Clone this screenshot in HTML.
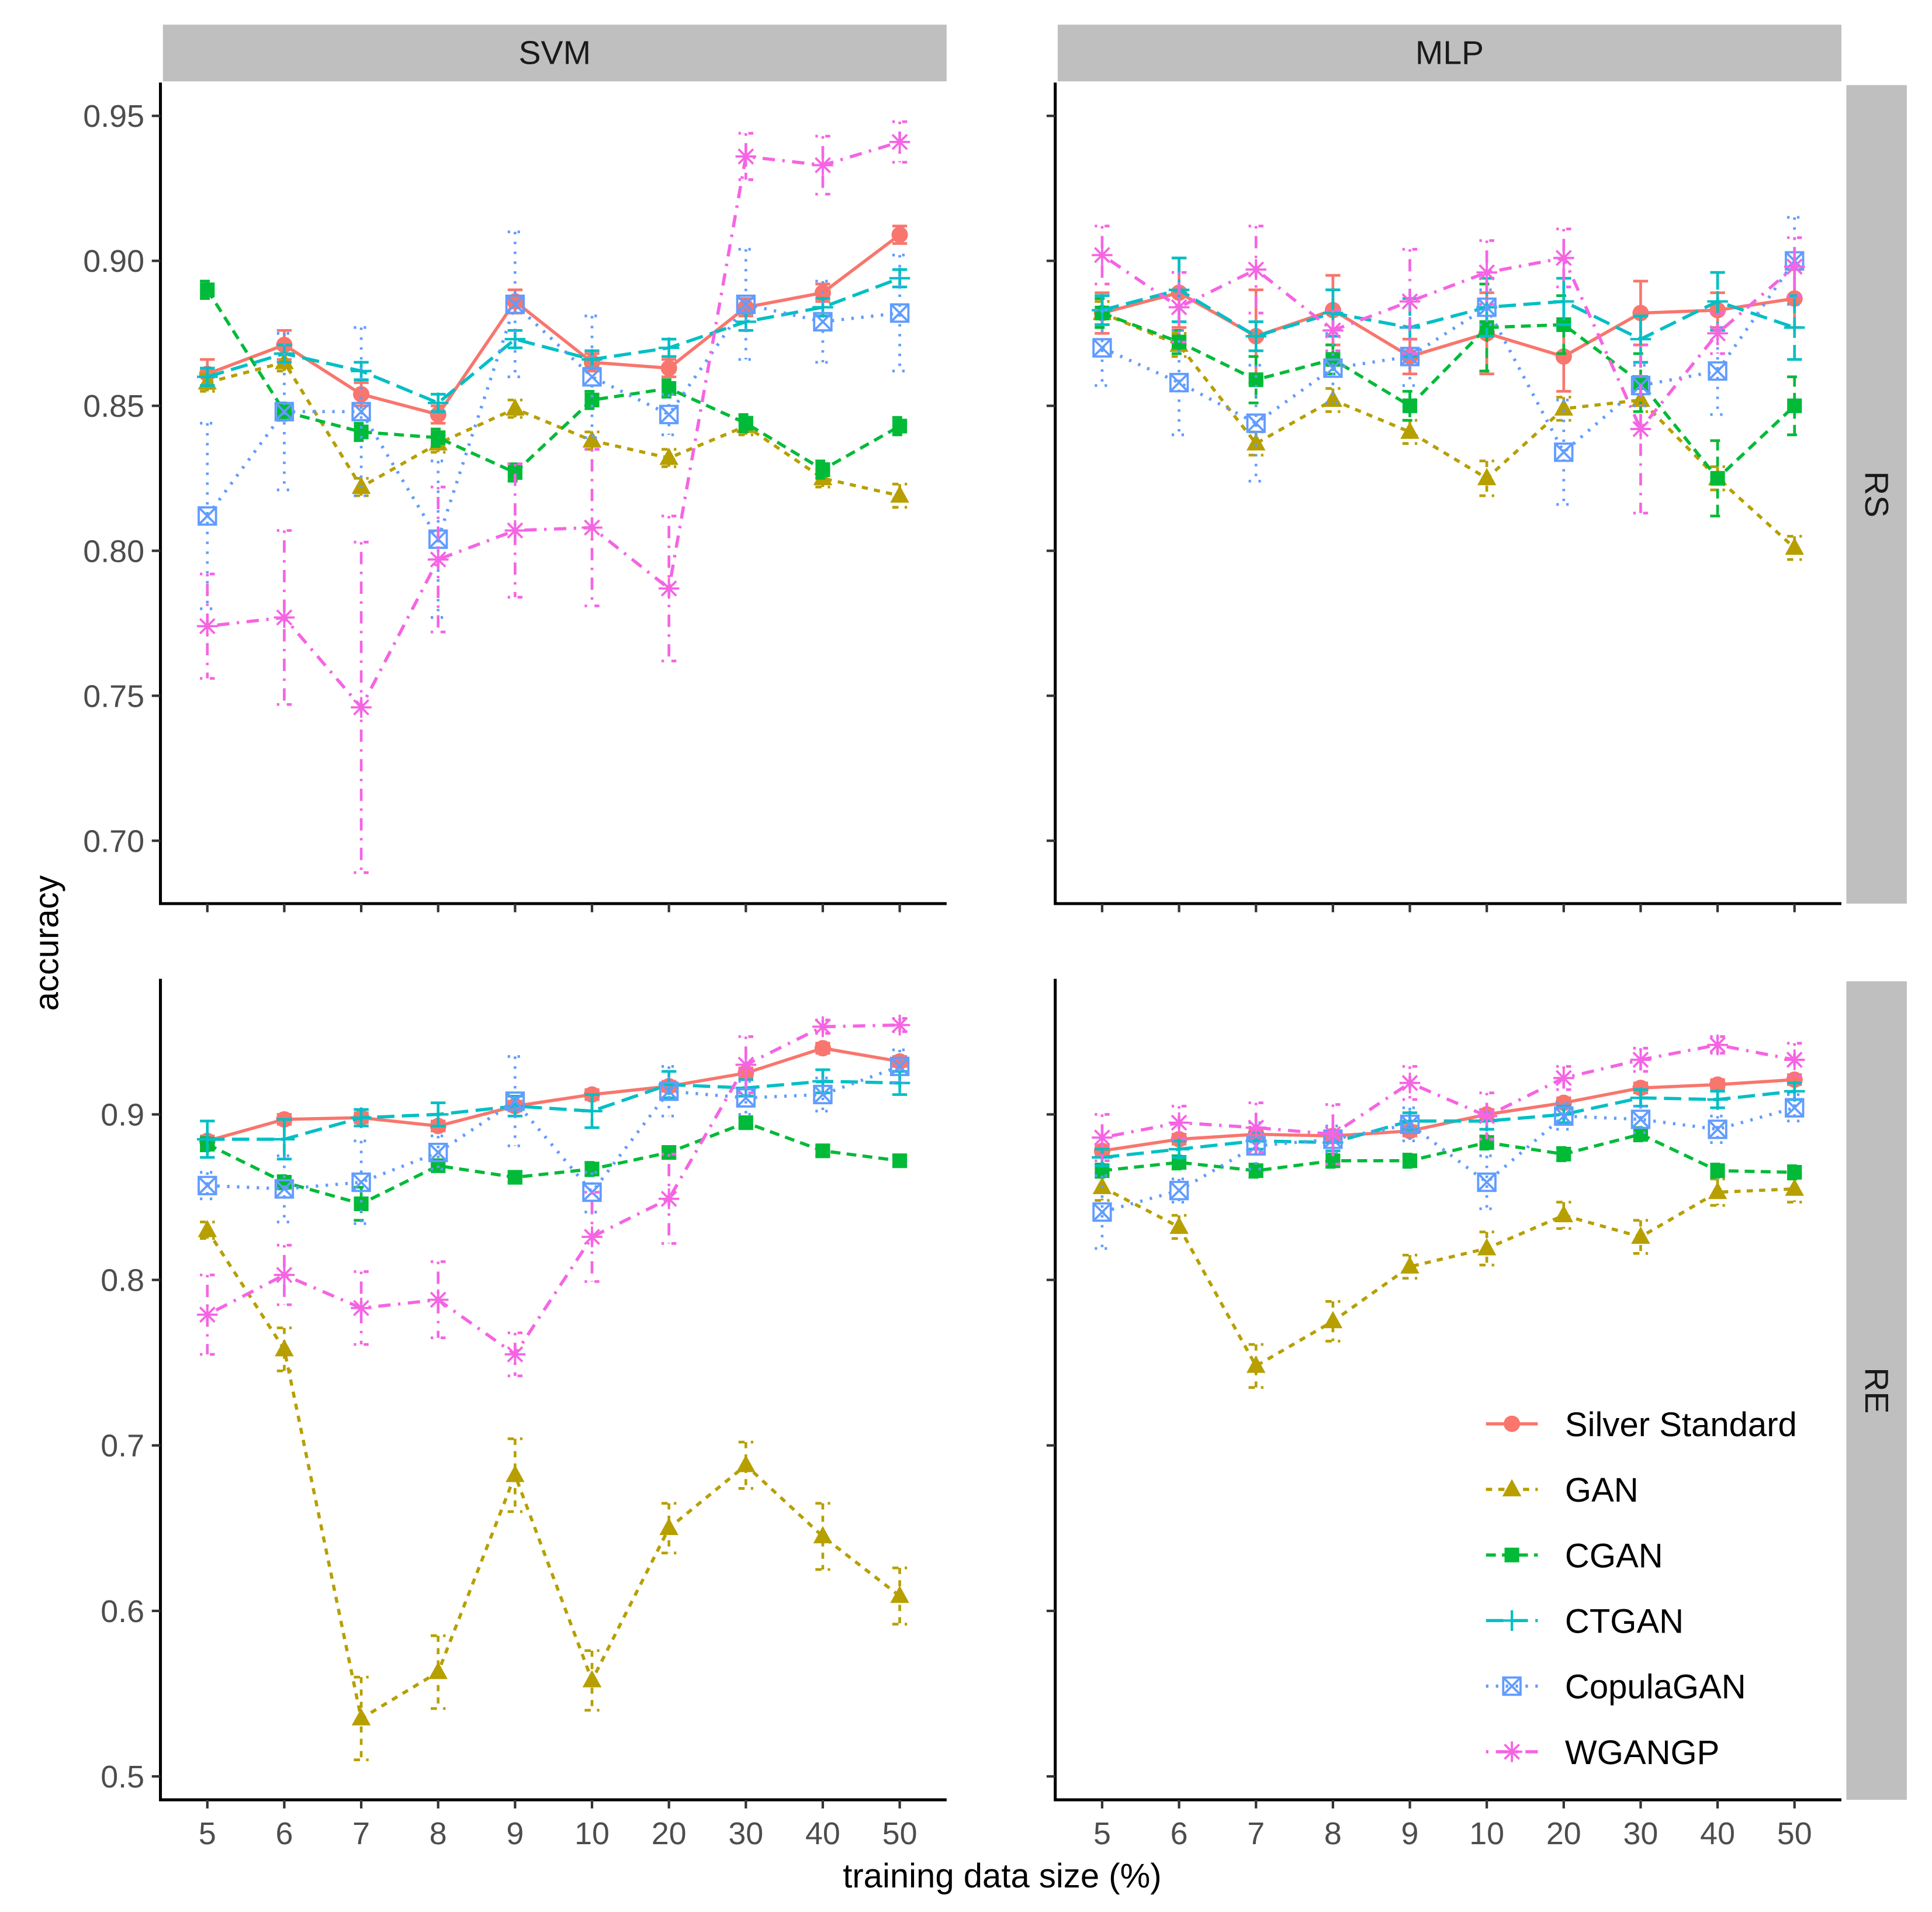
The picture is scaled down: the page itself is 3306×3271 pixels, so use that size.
<!DOCTYPE html>
<html><head><meta charset="utf-8"><style>
html,body{margin:0;padding:0;background:#fff}
svg{display:block}
text{font-family:"Liberation Sans",Arial,sans-serif}
</style></head><body>
<svg id="chart" width="3306" height="3271" viewBox="0 0 1565.4 1551" preserveAspectRatio="none" xmlns="http://www.w3.org/2000/svg">
<rect width="1570" height="1560" fill="#fff"/>
</svg>
<script>
const categories = ["5","6","7","8","9","10","20","30","40","50"];
const seriesNames = ["Silver Standard","GAN","CGAN","CTGAN","CopulaGAN","WGANGP"];
const topTicks = [0.70,0.75,0.80,0.85,0.90,0.95];
const topTickLabels = ["0.70","0.75","0.80","0.85","0.90","0.95"];
const botTicks = [0.5,0.6,0.7,0.8,0.9];
const botTickLabels = ["0.5","0.6","0.7","0.8","0.9"];

// SVM RS
const svmRS_silver = [0.861,0.871,0.854,0.847,0.886,0.865,0.863,0.884,0.889,0.909];
const svmRS_silverErr = [0.005,0.005,0.004,0.003,0.004,0.003,0.003,0.003,0.003,0.003];
const svmRS_gan = [0.858,0.865,0.822,0.837,0.849,0.838,0.832,0.843,0.825,0.819];
const svmRS_ganErr = [0.003,0.003,0.003,0.003,0.003,0.003,0.003,0.003,0.003,0.004];
const svmRS_cgan = [0.890,0.848,0.841,0.839,0.827,0.852,0.856,0.844,0.828,0.843];
const svmRS_cganErr = [0.003,0.003,0.003,0.003,0.003,0.003,0.003,0.003,0.003,0.003];
const svmRS_ctgan = [0.860,0.868,0.862,0.851,0.873,0.866,0.870,0.879,0.884,0.894];
const svmRS_ctganErr = [0.003,0.003,0.003,0.003,0.003,0.003,0.003,0.003,0.003,0.003];
const svmRS_copula = [0.812,0.848,0.848,0.804,0.885,0.860,0.847,0.885,0.879,0.882];
const svmRS_copulaErr = [0.032,0.027,0.029,0.027,0.025,0.021,0.007,0.019,0.014,0.020];
const svmRS_wgan = [0.774,0.777,0.746,0.797,0.807,0.808,0.787,0.936,0.933,0.941];
const svmRS_wganErr = [0.018,0.030,0.057,0.025,0.023,0.027,0.025,0.008,0.010,0.007];

// MLP RS
const mlpRS_silver = [0.882,0.889,0.874,0.883,0.867,0.875,0.867,0.882,0.883,0.887];
const mlpRS_silverErr = [0.007,0.012,0.016,0.012,0.006,0.014,0.012,0.011,0.006,0.010];
const mlpRS_gan = [0.882,0.871,0.837,0.852,0.841,0.825,0.849,0.852,0.825,0.801];
const mlpRS_ganErr = [0.004,0.004,0.004,0.004,0.004,0.006,0.004,0.004,0.004,0.004];
const mlpRS_cgan = [0.882,0.872,0.859,0.866,0.850,0.877,0.878,0.858,0.825,0.850];
const mlpRS_cganErr = [0.005,0.004,0.008,0.005,0.005,0.015,0.010,0.010,0.013,0.010];
const mlpRS_ctgan = [0.883,0.890,0.874,0.882,0.877,0.884,0.886,0.873,0.886,0.877];
const mlpRS_ctganErr = [0.005,0.011,0.005,0.008,0.010,0.010,0.008,0.008,0.010,0.011];
const mlpRS_copula = [0.870,0.858,0.844,0.863,0.867,0.884,0.834,0.857,0.862,0.900];
const mlpRS_copulaErr = [0.013,0.018,0.020,0.012,0.010,0.006,0.018,0.007,0.015,0.015];
const mlpRS_wgan = [0.902,0.884,0.897,0.876,0.886,0.896,0.901,0.842,0.875,0.898];
const mlpRS_wganErr = [0.010,0.012,0.015,0.007,0.018,0.011,0.010,0.029,0.007,0.010];

// SVM RE
const svmRE_silver = [0.884,0.897,0.898,0.893,0.905,0.912,0.917,0.925,0.940,0.932];
const svmRE_silverErr = [0.003,0.003,0.003,0.003,0.003,0.003,0.003,0.003,0.003,0.003];
const svmRE_gan = [0.830,0.758,0.535,0.563,0.682,0.558,0.650,0.688,0.645,0.609];
const svmRE_ganErr = [0.005,0.013,0.025,0.022,0.022,0.018,0.015,0.014,0.020,0.017];
const svmRE_cgan = [0.882,0.859,0.846,0.869,0.862,0.867,0.877,0.895,0.878,0.872];
const svmRE_cganErr = [0.004,0.004,0.010,0.003,0.003,0.004,0.003,0.003,0.003,0.003];
const svmRE_ctgan = [0.885,0.885,0.898,0.900,0.905,0.902,0.918,0.916,0.920,0.919];
const svmRE_ctganErr = [0.011,0.012,0.005,0.007,0.006,0.010,0.008,0.005,0.007,0.007];
const svmRE_copula = [0.857,0.855,0.859,0.877,0.908,0.853,0.914,0.910,0.912,0.929];
const svmRE_copulaErr = [0.008,0.020,0.025,0.010,0.027,0.012,0.015,0.010,0.010,0.010];
const svmRE_wgan = [0.779,0.803,0.783,0.788,0.755,0.826,0.849,0.930,0.953,0.954];
const svmRE_wganErr = [0.024,0.018,0.022,0.023,0.013,0.027,0.027,0.017,0.004,0.004];

// MLP RE
const mlpRE_silver = [0.878,0.885,0.888,0.887,0.890,0.900,0.907,0.916,0.918,0.921];
const mlpRE_silverErr = [0.003,0.003,0.003,0.003,0.003,0.003,0.003,0.003,0.003,0.003];
const mlpRE_gan = [0.856,0.832,0.748,0.775,0.808,0.819,0.839,0.826,0.853,0.855];
const mlpRE_ganErr = [0.008,0.007,0.013,0.012,0.007,0.010,0.008,0.010,0.008,0.008];
const mlpRE_cgan = [0.866,0.871,0.866,0.872,0.872,0.883,0.876,0.888,0.866,0.865];
const mlpRE_cganErr = [0.004,0.004,0.004,0.004,0.004,0.004,0.004,0.004,0.004,0.004];
const mlpRE_ctgan = [0.874,0.879,0.884,0.883,0.896,0.896,0.900,0.910,0.909,0.914];
const mlpRE_ctganErr = [0.005,0.005,0.005,0.005,0.005,0.005,0.005,0.005,0.005,0.005];
const mlpRE_copula = [0.841,0.854,0.881,0.885,0.894,0.859,0.899,0.897,0.891,0.904];
const mlpRE_copulaErr = [0.022,0.007,0.014,0.008,0.010,0.016,0.008,0.008,0.008,0.008];
const mlpRE_wgan = [0.886,0.895,0.892,0.888,0.919,0.899,0.922,0.933,0.942,0.933];
const mlpRE_wganErr = [0.014,0.010,0.015,0.018,0.010,0.014,0.007,0.007,0.005,0.010];

const NS="http://www.w3.org/2000/svg";
const svg=document.getElementById('chart');
function mk(tag,attrs,parent){const e=document.createElementNS(NS,tag);for(const k in attrs)e.setAttribute(k,attrs[k]);(parent||svg).appendChild(e);return e;}

const colors=["#F8766D","#B79F00","#00BA38","#00BFC4","#619CFF","#F564E3"];
const dashes=["","5,5","8,5","14,6","2,6","2,6,10,6"];
const shapes=["circle","triangle","square","plus","boxx","star"];

const panels=[
 {name:"svm-rs",x0:130,x1:767,y0:67,y1:733,dom:[0.95,94,0.70,682],ticks:topTicks,labels:topTickLabels,showY:true,showX:false,
  data:[[svmRS_silver,svmRS_silverErr],[svmRS_gan,svmRS_ganErr],[svmRS_cgan,svmRS_cganErr],[svmRS_ctgan,svmRS_ctganErr],[svmRS_copula,svmRS_copulaErr],[svmRS_wgan,svmRS_wganErr]]},
 {name:"mlp-rs",x0:855,x1:1492,y0:67,y1:733,dom:[0.95,94,0.70,682],ticks:topTicks,labels:topTickLabels,showY:false,showX:false,
  data:[[mlpRS_silver,mlpRS_silverErr],[mlpRS_gan,mlpRS_ganErr],[mlpRS_cgan,mlpRS_cganErr],[mlpRS_ctgan,mlpRS_ctganErr],[mlpRS_copula,mlpRS_copulaErr],[mlpRS_wgan,mlpRS_wganErr]]},
 {name:"svm-re",x0:130,x1:767,y0:794,y1:1460,dom:[0.9,904,0.5,1441],ticks:botTicks,labels:botTickLabels,showY:true,showX:true,
  data:[[svmRE_silver,svmRE_silverErr],[svmRE_gan,svmRE_ganErr],[svmRE_cgan,svmRE_cganErr],[svmRE_ctgan,svmRE_ctganErr],[svmRE_copula,svmRE_copulaErr],[svmRE_wgan,svmRE_wganErr]]},
 {name:"mlp-re",x0:855,x1:1492,y0:794,y1:1460,dom:[0.9,904,0.5,1441],ticks:botTicks,labels:botTickLabels,showY:false,showX:true,
  data:[[mlpRE_silver,mlpRE_silverErr],[mlpRE_gan,mlpRE_ganErr],[mlpRE_cgan,mlpRE_cganErr],[mlpRE_ctgan,mlpRE_ctganErr],[mlpRE_copula,mlpRE_copulaErr],[mlpRE_wgan,mlpRE_wganErr]]}
];

function drawShape(g,shape,cx,cy,col,s){
 let e;
 if(shape==="circle"){e=mk('circle',{cx,cy,r:s*0.95,fill:col},g);}
 else if(shape==="triangle"){e=mk('polygon',{points:`${cx},${cy-s*1.2} ${cx-s*1.1},${cy+s*0.8} ${cx+s*1.1},${cy+s*0.8}`,fill:col},g);}
 else if(shape==="square"){e=mk('rect',{x:cx-s*0.85,y:cy-s*0.85,width:s*1.7,height:s*1.7,fill:col},g);}
 else if(shape==="plus"){e=mk('path',{d:`M${cx-s*1.2},${cy}H${cx+s*1.2}M${cx},${cy-s*1.2}V${cy+s*1.2}`,stroke:col,'stroke-width':2,fill:'none'},g);}
 else if(shape==="boxx"){e=mk('path',{d:`M${cx-s},${cy-s}h${2*s}v${2*s}h${-2*s}zM${cx-s},${cy-s}L${cx+s},${cy+s}M${cx+s},${cy-s}L${cx-s},${cy+s}`,stroke:col,'stroke-width':1.8,fill:'none'},g);}
 else {e=mk('path',{d:`M${cx-s*1.2},${cy}H${cx+s*1.2}M${cx},${cy-s*1.2}V${cy+s*1.2}M${cx-s*0.85},${cy-s*0.85}L${cx+s*0.85},${cy+s*0.85}M${cx+s*0.85},${cy-s*0.85}L${cx-s*0.85},${cy+s*0.85}`,stroke:col,'stroke-width':1.8,fill:'none'},g);}
 
 
 return e;
}

panels.forEach(p=>{
 const g=mk('g',{});
 
 
 const xs=i=>p.x0+38+i*(p.x1-p.x0-76)/(categories.length-1);
 const ys=v=>p.dom[1]+(p.dom[0]-v)*(p.dom[3]-p.dom[1])/(p.dom[0]-p.dom[2]);
 const ax=mk('path',{d:`M${p.x0},${p.y0}V${p.y1}H${p.x1}`,stroke:'#000','stroke-width':2.4,fill:'none'},g);
 
 
 p.ticks.forEach((t,i)=>{
  const y=ys(t);
  const tk=mk('line',{x1:p.x0-7,x2:p.x0,y1:y,y2:y,stroke:'#333','stroke-width':2},g);
  
  
  if(p.showY){
   const tl=mk('text',{x:p.x0-13,y:y+9,'text-anchor':'end','font-size':25.5,fill:'#4d4d4d'},g);
   tl.textContent=p.labels[i];
   
   
  }
 });
 categories.forEach((c,i)=>{
  const x=xs(i);
  const tk=mk('line',{x1:x,x2:x,y1:p.y1,y2:p.y1+7,stroke:'#333','stroke-width':2},g);
  
  
  if(p.showX){
   const tl=mk('text',{x:x,y:p.y1+36,'text-anchor':'middle','font-size':25.5,fill:'#4d4d4d'},g);
   tl.textContent=c;
   
   
  }
 });
 p.data.forEach((sd,si)=>{
  const vals=sd[0],errs=sd[1],col=colors[si];
  const sg=mk('g',{},g);
  
  
  vals.forEach((v,i)=>{
   const x=xs(i),ya=ys(v+errs[i]),yb=ys(v-errs[i]);
   const eb=mk('path',{d:`M${x-6},${ya}H${x+6}M${x},${ya}V${yb}M${x-6},${yb}H${x+6}`,stroke:col,'stroke-width':2.2,fill:'none','stroke-dasharray':dashes[si]},sg);
   
   
  });
  const d=vals.map((v,i)=>(i?'L':'M')+xs(i)+','+ys(v)).join('');
  const ln=mk('path',{d,stroke:col,'stroke-width':2.6,fill:'none','stroke-dasharray':dashes[si]},sg);
  
  
  vals.forEach((v,i)=>drawShape(sg,shapes[si],xs(i),ys(v),col,7));
 });
});

function strip(x,y,w,h,label,rot,name){
 const r=mk('rect',{x,y,width:w,height:h,fill:'#bfbfbf'});
 
 
 const cx=x+w/2,cy=y+h/2;
 const t=mk('text',{x:cx,y:cy+9,'text-anchor':'middle','font-size':27,fill:'#1a1a1a',transform:rot?`rotate(90 ${cx} ${cy})`:''});
 t.textContent=label;
 
 
}
strip(132,20,635,46,'SVM',false,'strip-svm');
strip(857,20,635,46,'MLP',false,'strip-mlp');
strip(1496,69,49,664,'RS',true,'strip-rs');
strip(1496,796,49,664,'RE',true,'strip-re');

let t=mk('text',{x:812,y:1531,'text-anchor':'middle','font-size':27.5,fill:'#000'});
t.textContent='training data size (%)';


t=mk('text',{x:47,y:765,'text-anchor':'middle','font-size':27.5,fill:'#000',transform:'rotate(-90 47 765)'});
t.textContent='accuracy';



const lg=mk('g',{});


seriesNames.forEach((n,i)=>{
 const y=1155+i*53.2;
 const eg=mk('g',{},lg);
 
 
 mk('line',{x1:1204,x2:1246,y1:y,y2:y,stroke:colors[i],'stroke-width':2.6,'stroke-dasharray':dashes[i]},eg);
 drawShape(eg,shapes[i],1225,y,colors[i],7);
 const tt=mk('text',{x:1268,y:y+10,'font-size':27.5,fill:'#000'},eg);
 tt.textContent=n;
});
</script>
</body></html>
